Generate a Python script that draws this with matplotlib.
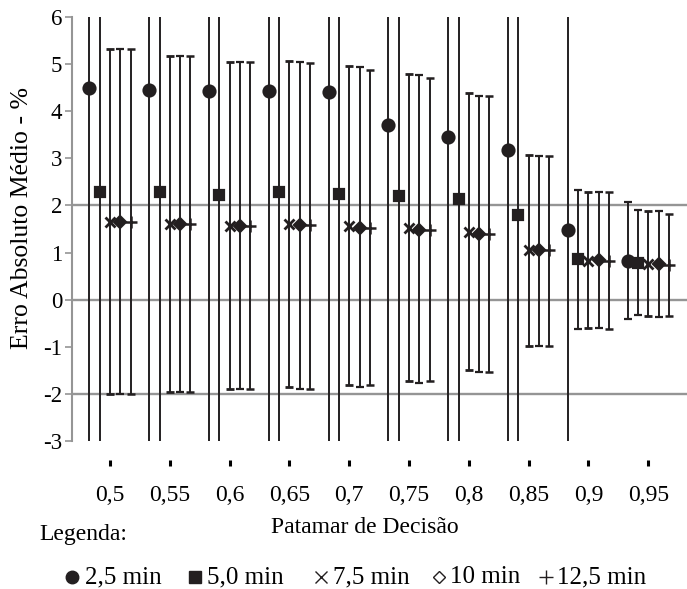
# -*- coding: utf-8 -*-
# Erro absoluto medio por patamar de decisao (5 horizontes)
import numpy as np
import matplotlib
matplotlib.use('Agg')
import matplotlib.pyplot as plt
from matplotlib.lines import Line2D

# %% DADOS
patamar = [0.5, 0.55, 0.6, 0.65, 0.7, 0.75, 0.8, 0.85, 0.9, 0.95]
rotulos = ['0,5', '0,55', '0,6', '0,65', '0,7', '0,75', '0,8', '0,85',
           '0,9', '0,95']
series = ['2,5 min', '5,0 min', '7,5 min', '10 min', '12,5 min']

media_25 = [4.49, 4.45, 4.42, 4.42, 4.40, 3.71, 3.45, 3.17, 1.47, 0.83]
sup_25 = [6.6, 6.6, 6.6, 6.6, 6.6, 6.5, 6.4, 6.3, 6.2, 2.08]
inf_25 = [-3.6, -3.6, -3.6, -3.6, -3.6, -3.5, -3.5, -3.4, -3.3, -0.42]

media_50 = [2.28, 2.28, 2.23, 2.28, 2.24, 2.21, 2.14, 1.79, 0.86, 0.78]
sup_50 = [6.5, 6.5, 6.5, 6.5, 6.4, 6.4, 6.3, 6.2, 2.32, 1.91]
inf_50 = [-3.5, -3.5, -3.5, -3.5, -3.4, -3.4, -3.3, -3.2, -0.62, -0.33]

media_75 = [1.65, 1.61, 1.57, 1.60, 1.57, 1.52, 1.44, 1.06, 0.83, 0.76]
sup_75 = [5.32, 5.17, 5.05, 5.07, 4.96, 4.80, 4.38, 3.08, 2.28, 1.89]
inf_75 = [-2.01, -1.96, -1.90, -1.85, -1.82, -1.73, -1.50, -0.98, -0.60,
          -0.35]

media_10 = [1.65, 1.61, 1.57, 1.58, 1.53, 1.48, 1.40, 1.05, 0.85, 0.76]
sup_10 = [5.32, 5.17, 5.05, 5.05, 4.93, 4.77, 4.33, 3.06, 2.28, 1.89]
inf_10 = [-2.01, -1.96, -1.90, -1.89, -1.85, -1.77, -1.53, -0.98, -0.60,
          -0.37]

media_125 = [1.65, 1.61, 1.57, 1.58, 1.53, 1.48, 1.40, 1.05, 0.83, 0.73]
sup_125 = [5.32, 5.17, 5.05, 5.03, 4.87, 4.70, 4.33, 3.06, 2.28, 1.82]
inf_125 = [-2.01, -1.96, -1.90, -1.89, -1.82, -1.73, -1.53, -0.98, -0.62,
           -0.35]

# %% ESTILO
plt.rcParams['font.family'] = ['Liberation Serif', 'DejaVu Serif']
plt.rcParams['axes.unicode_minus'] = False
COR = '#231f20'
CINZA = '#959595'

fig = plt.figure(figsize=(6.87, 5.89), dpi=100)
ax = fig.add_axes([0.1048, 0.2513, 0.8952, 0.7198])

dados = [
    (media_25, sup_25, inf_25, 'o', 8.6, -2, 1.6),
    (media_50, sup_50, inf_50, 's', 7.8, -1, 1.6),
    (media_75, sup_75, inf_75, 'x', 7.8, 0, 2.0),
    (media_10, sup_10, inf_10, 'D', 6.2, 1, 1.6),
    (media_125, sup_125, inf_125, '+', 9.0, 2, 1.8),
]

passo = 0.0086
x_base = np.array(patamar)
for media, sup, inf, marc, tam, k, esp in dados:
    media = np.array(media)
    erro = [media - np.array(inf), np.array(sup) - media]
    ax.errorbar(x_base + k * passo, media, yerr=erro, fmt=marc, ms=tam,
                color=COR, mec=COR, mfc=COR, mew=esp, elinewidth=1.4,
                capsize=3, capthick=1.6, zorder=3)

for g in [2, 0, -2]:
    ax.axhline(g, color=CINZA, lw=1.7, zorder=1)

ax.set_xlim(0.4682, 0.9824)
ax.set_ylim(-3, 6)
ax.set_yticks(range(-3, 7))
ax.set_xticks(patamar)
ax.set_xticklabels(rotulos)

for s in ['top', 'right']:
    ax.spines[s].set_visible(False)
ax.spines['left'].set_color(CINZA)
ax.spines['left'].set_linewidth(1.5)
ax.spines['bottom'].set_position(('outward', 14))
ax.spines['bottom'].set_visible(False)

ax.tick_params(axis='y', direction='out', length=5, width=1.2, color=CINZA,
               labelsize=16.5, pad=2, labelcolor='black')
ax.tick_params(axis='x', direction='out', length=4.3, width=2.2,
               color='black', labelsize=17, pad=13.5)

fig.text(0.032, 0.63, 'Erro Absoluto Médio - %', rotation=90,
         ha='center', va='center', fontsize=18.5)
fig.text(0.531, 0.104, 'Patamar de Decisão', ha='center', va='center',
         fontsize=17)
fig.text(0.058, 0.093, 'Legenda:', ha='left', va='center', fontsize=17)

# legenda em linha: simbolos desenhados como marcadores
base = 1 - 583 / 589
meio = 1 - 577 / 589
leg_marc = ['o', 's', 'x', 'D', '+']
leg_tam = [9, 8, 8, 6, 10]
leg_cheio = [True, True, True, False, True]
pos_simb = [72, 195, 321, 439, 546]
pos_txt = [85, 207, 333, 450, 557]
for m, t, ch, xs, xt, nome in zip(leg_marc, leg_tam, leg_cheio, pos_simb,
                                  pos_txt, series):
    fig.add_artist(Line2D([xs / 687], [meio], marker=m, ms=t, ls='none',
                          color=COR, mec=COR, mew=1.0,
                          mfc=COR if ch else 'white',
                          transform=fig.transFigure))
    fig.text(xt / 687, base, nome, ha='left', va='baseline', fontsize=18)

plt.savefig('out.png', dpi=100)
